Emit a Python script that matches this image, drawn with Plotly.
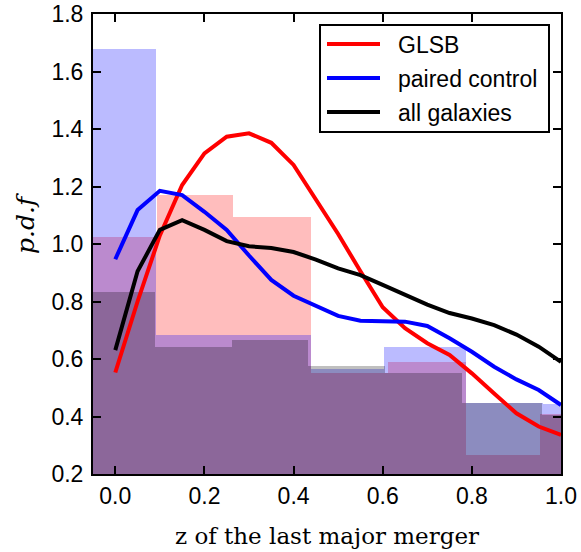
import plotly.graph_objects as go

# ---- histogram data (bin edges and heights) ----
glsb_edges = [-0.08, 0.094, 0.264, 0.438, 0.612, 0.787, 0.952, 1.13]
glsb_hist = [1.024, 1.17, 1.095, 0.551, 0.588, 0.265, 0.41]

ctrl_edges = [-0.08, 0.0915, 0.262, 0.44, 0.603, 0.787, 0.959, 1.13]
ctrl_hist = [1.68, 0.683, 0.683, 0.565, 0.643, 0.446, 0.443]

all_edges = [-0.08, 0.088, 0.262, 0.432, 0.605, 0.778, 0.957, 1.13]
all_hist = [0.834, 0.643, 0.666, 0.576, 0.552, 0.446, 0.405]

# ---- smoothed pdf curves ----
z_grid = [0.0, 0.05, 0.1, 0.15, 0.2, 0.25, 0.3, 0.35, 0.4, 0.45, 0.5,
          0.55, 0.6, 0.65, 0.7, 0.75, 0.8, 0.85, 0.9, 0.95, 1.0]
glsb_pdf = [0.553, 0.80, 1.03, 1.205, 1.315, 1.373, 1.385, 1.352, 1.275, 1.155, 1.035,
            0.905, 0.78, 0.707, 0.655, 0.614, 0.55, 0.48, 0.411, 0.365, 0.336]
ctrl_pdf = [0.947, 1.118, 1.185, 1.17, 1.112, 1.049, 0.96, 0.875, 0.82, 0.785, 0.75,
            0.733, 0.732, 0.73, 0.715, 0.672, 0.625, 0.573, 0.529, 0.492, 0.44]
all_pdf = [0.631, 0.905, 1.049, 1.083, 1.049, 1.01, 0.992, 0.986, 0.972, 0.946, 0.915,
           0.892, 0.858, 0.823, 0.789, 0.76, 0.741, 0.718, 0.685, 0.643, 0.59]

series_names = ["GLSB", "paired control", "all galaxies"]
series_colors = ["#ff0000", "#0000ff", "#000000"]


def centers_widths(edges):
    c = [(a + b) / 2 for a, b in zip(edges[:-1], edges[1:])]
    w = [b - a for a, b in zip(edges[:-1], edges[1:])]
    return c, w


fig = go.Figure()

for edges, h, col in [(glsb_edges, glsb_hist, "rgba(255,0,0,0.26)"),
                      (ctrl_edges, ctrl_hist, "rgba(0,0,255,0.265)"),
                      (all_edges, all_hist, "rgba(0,0,0,0.25)")]:
    c, w = centers_widths(edges)
    fig.add_trace(go.Bar(x=c, y=h, width=w, base=0, marker=dict(color=col, line=dict(width=0)),
                         showlegend=False, hoverinfo="skip"))

for i, ys in enumerate([glsb_pdf, ctrl_pdf, all_pdf]):
    fig.add_trace(go.Scatter(x=z_grid, y=ys, mode="lines", name=series_names[i],
                             line=dict(color=series_colors[i], width=4), showlegend=False))

# ---- hand-drawn legend (paper coordinates; plot area is 468 x 460 px) ----
W, H, L, T = 468.0, 460.0, 93.0, 14.0


def px(xp):
    return (xp - L) / W


def py(yp):
    return 1 - (yp - T) / H


shapes = [dict(type="rect", xref="paper", yref="paper",
               x0=px(320), x1=px(549), y0=py(132), y1=py(25),
               line=dict(color="black", width=2), fillcolor="white", layer="above")]
annotations = []
for i, yrow in enumerate([44, 78, 112]):
    shapes.append(dict(type="line", xref="paper", yref="paper",
                       x0=px(327), x1=px(380), y0=py(yrow), y1=py(yrow),
                       line=dict(color=series_colors[i], width=4), layer="above"))
    annotations.append(dict(text=series_names[i], xref="paper", yref="paper",
                            x=px(396), y=py(yrow + 1), xanchor="left", yanchor="middle",
                            showarrow=False,
                            font=dict(family="Liberation Sans, Arial, sans-serif", size=23,
                                      color="black")))

annotations.append(dict(text="<i>p.d.f</i>", xref="paper", yref="paper",
                        x=px(25), y=py(224), xanchor="center", yanchor="middle", textangle=-90,
                        showarrow=False,
                        font=dict(family="DejaVu Serif, serif", size=25, color="black")))

tickfont = dict(family="Liberation Sans, Arial, sans-serif", size=23, color="black")
fig.update_layout(
    width=581, height=552,
    margin=dict(l=93, r=20, t=14, b=78),
    plot_bgcolor="white", paper_bgcolor="white",
    barmode="overlay", bargap=0,
    showlegend=False,
    shapes=shapes,
    annotations=annotations,
    xaxis=dict(range=[-0.05, 1.0], tickvals=[0.0, 0.2, 0.4, 0.6, 0.8, 1.0], tickformat=".1f",
               ticks="inside", ticklen=8, tickwidth=1.5, tickcolor="black",
               showline=True, linewidth=2, linecolor="black", mirror="ticks",
               showgrid=False, zeroline=False, tickfont=tickfont, automargin=False,
               title=dict(text="z of the last major merger",
                          font=dict(family="DejaVu Serif, serif", size=23, color="black"),
                          standoff=20)),
    yaxis=dict(range=[0.2, 1.8], tickvals=[0.2, 0.4, 0.6, 0.8, 1.0, 1.2, 1.4, 1.6, 1.8], tickformat=".1f",
               ticks="inside", ticklen=8, tickwidth=1.5, tickcolor="black",
               showline=True, linewidth=2, linecolor="black", mirror="ticks",
               showgrid=False, zeroline=False, tickfont=tickfont, ticklabelstandoff=3,
               automargin=False),
)

fig.write_html("out.html")
